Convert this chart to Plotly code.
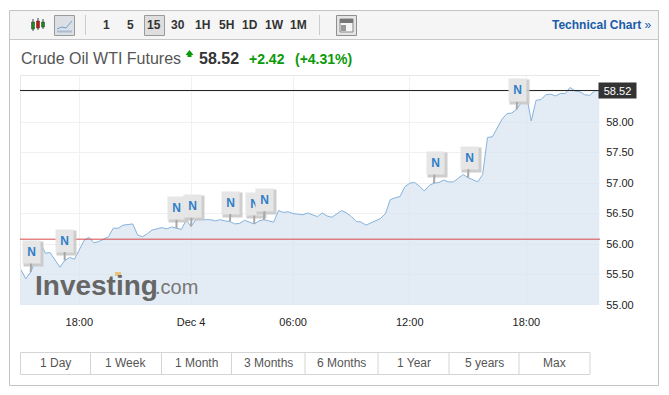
import plotly.graph_objects as go
import pandas as pd

W, H = 669, 395
FONT = "Liberation Sans, Arial, sans-serif"

# 15-minute bars, with the thin overnight stretch left out
session_gaps = ["2017-12-03 23:00", "2017-12-04 01:00", "2017-12-04 02:15", "2017-12-04 03:30", "2017-12-04 04:45"]
times = [t for t in pd.date_range("2017-12-03 15:00", periods=125, freq="15min")
         if t.strftime("%Y-%m-%d %H:%M") not in session_gaps]
categories = [t.strftime("%d %H:%M") for t in times]

prices = [
    55.58, 55.43, 55.54, 55.73, 56.03, 55.85, 55.86, 55.74, 55.62, 55.73,
    55.78, 55.75, 55.90, 56.06, 56.11, 56.02, 56.04, 56.08, 56.12, 56.26,
    56.26, 56.31, 56.32, 56.33, 56.15, 56.12, 56.17, 56.23, 56.25, 56.27,
    56.25, 56.28, 56.26, 56.24, 56.39, 56.29, 56.40, 56.40, 56.41, 56.40,
    56.38, 56.40, 56.38, 56.37, 56.33, 56.34, 56.39, 56.36, 56.33, 56.38,
    56.40, 56.38, 56.36, 56.55, 56.52, 56.53, 56.50, 56.49, 56.48, 56.51,
    56.48, 56.45, 56.51, 56.46, 56.44, 56.50, 56.55, 56.51, 56.45, 56.37,
    56.36, 56.31, 56.35, 56.38, 56.42, 56.50, 56.73, 56.76, 56.78, 56.94,
    57.00, 57.01, 56.95, 56.87, 56.96, 57.00, 57.01, 57.05, 57.02, 57.02,
    57.08, 57.14, 57.09, 57.06, 57.02, 57.14, 57.75, 57.76, 57.91, 58.05,
    58.14, 58.15, 58.21, 58.34, 58.45, 58.02, 58.36, 58.37, 58.45, 58.46,
    58.43, 58.47, 58.47, 58.57, 58.51, 58.50, 58.45, 58.44, 58.51, 58.52,
]
categories = categories[:len(prices)]

prev_close = 56.08
last_price = 58.52
y_ticks = [55.0, 55.5, 56.0, 56.5, 57.0, 57.5, 58.0, 58.5]
y_labels = ["55.00", "55.50", "56.00", "56.50", "57.00", "57.50", "58.00", ""]
x_tick_idx = [12, 35, 56, 80, 104]
x_labels = ["18:00", "Dec 4", "06:00", "12:00", "18:00"]

news_idx = [2, 9, 32, 35, 43, 48, 50, 85, 92, 102]
news_dx = [1, 0, 0, 1, 1, 0, 1, 1, 1, 1]
news_dy = [-20, -20, -20, -20, -19, -20, -20, -20, -20, -19]

toolbar_labels = ["1", "5", "15", "30", "1H", "5H", "1D", "1W", "1M"]
toolbar_x = [106, 130, 154, 178, 202, 226, 250, 274, 298]
range_labels = ["1 Day", "1 Week", "1 Month", "3 Months", "6 Months", "1 Year", "5 years", "Max"]
range_edges = [20, 90.5, 161.5, 231.5, 305, 378, 449, 519, 590]


def px(x):
    return x / W


def py(y):
    return 1 - y / H


def rect(x0, y0, x1, y1, fill=None, line=None, lw=1, layer="above"):
    return dict(type="rect", xref="paper", yref="paper", x0=px(x0), x1=px(x1), y0=py(y0), y1=py(y1),
                fillcolor=fill or "rgba(0,0,0,0)", line=dict(color=line or "rgba(0,0,0,0)", width=lw if line else 0),
                layer=layer)


def seg(x0, y0, x1, y1, color, lw=1):
    return dict(type="line", xref="paper", yref="paper", x0=px(x0), x1=px(x1), y0=py(y0), y1=py(y1),
                line=dict(color=color, width=lw), layer="above")


def text(x, y, s, size=12, color="#333", bold=False, anchor="center"):
    shift = {"left": -2, "right": 2}.get(anchor, 0)
    return dict(xref="paper", yref="paper", x=px(x + shift), y=py(y), text=f"<b>{s}</b>" if bold else s,
                showarrow=False, xanchor=anchor, yanchor="middle",
                font=dict(family=FONT, size=size, color=color))


fig = go.Figure()
fig.add_trace(go.Scatter(x=categories, y=prices, mode="lines", fill="tozeroy",
                         fillcolor="rgba(214,227,240,0.68)",
                         line=dict(color="#86b2dc", width=1), hoverinfo="skip"))

shapes = []
# outer frame and toolbar
shapes.append(rect(9.5, 10.5, 658.5, 385.5, None, "#c4c4c4", 1, "below"))
shapes.append(rect(10, 11, 658, 39, "#f5f5f5", None, 1, "below"))
shapes.append(seg(10, 39.5, 658, 39.5, "#c8c8c8"))
shapes.append(seg(85.5, 15, 85.5, 35, "#cccccc"))
shapes.append(seg(319.5, 15, 319.5, 35, "#cccccc"))
# candle icon
for cx, col, top, bot, y0, y1 in [(33, "#1a8a1a", 19, 31, 22, 29), (38, "#cc1111", 18, 30, 21, 28), (43, "#1a8a1a", 19, 29, 22, 27)]:
    shapes.append(seg(cx, top, cx, bot, "#444"))
    shapes.append(rect(cx - 1.5, y0, cx + 1.5, y1, col, "#333", 0.5))
# line-chart button
shapes.append(rect(54.5, 15.5, 74.5, 35.5, "#dcdfe3", "#9a9a9a"))
shapes.append(dict(type="path", xref="paper", yref="paper",
                   path=f"M {px(57)} {py(29)} L {px(62)} {py(27)} L {px(66)} {py(28)} L {px(72)} {py(21)}",
                   line=dict(color="#6f9fd0", width=1), layer="above"))
shapes.append(seg(57, 31.5, 72, 31.5, "#a9bdd3", 2))
# active 15 button
shapes.append(rect(144.5, 15.5, 164.5, 35.5, "#dedede", "#9a9a9a"))
# layout button
shapes.append(rect(336.5, 15.5, 356.5, 35.5, "#e4e4e4", "#8f8f8f"))
shapes.append(rect(340, 19, 353, 32, "#f6f6f6", "#888888"))
shapes.append(rect(340, 19, 353, 23, "#777777"))
shapes.append(rect(341, 25, 346, 31, "#999999"))
# plot border
shapes.append(seg(20, 75.5, 600, 75.5, "#e8e8e8"))
shapes.append(seg(20.5, 75, 20.5, 305, "#e8e8e8"))
# reference lines from data
shapes.append(dict(type="line", xref="paper", yref="y", x0=px(20), x1=px(600), y0=prev_close, y1=prev_close,
                   line=dict(color="#d9484a", width=1), layer="above"))
shapes.append(dict(type="line", xref="paper", yref="y", x0=px(20), x1=px(600), y0=last_price, y1=last_price,
                   line=dict(color="#222222", width=1), layer="above"))
# up arrow
shapes.append(dict(type="path", xref="paper", yref="paper",
                   path=f"M {px(189.5)} {py(50)} L {px(193.5)} {py(55)} L {px(191.5)} {py(55)} L {px(191.5)} {py(57)} "
                        f"L {px(187.5)} {py(57)} L {px(187.5)} {py(55)} L {px(185.5)} {py(55)} Z",
                   fillcolor="#0a9a0a", line=dict(width=0), layer="above"))
# watermark accent
shapes.append(rect(115, 272, 121, 276, "#e8c47c"))
# range buttons
shapes.append(rect(20.5, 352.5, 590, 374.5, None, "#d4d4d4"))
for e in range_edges[1:-1]:
    shapes.append(seg(e, 352.5, e, 374.5, "#d4d4d4"))

ann = []
# watermark
ann.append(text(35, 285, "Investing", 28, "#666666", True, "left"))
ann.append(text(155, 287, ".com", 20, "#777777", False, "left"))
# news flags
for i, dx, dy in zip(news_idx, news_dx, news_dy):
    ann.append(dict(x=categories[i], y=prices[i], xref="x", yref="y", text=" ", showarrow=False,
                    xanchor="center", yanchor="middle",
                    xshift=dx + 2, yshift=-dy - 2, width=17, height=22, bgcolor="#c9c9c9", opacity=0.9))
    ann.append(dict(x=categories[i], y=prices[i], xref="x", yref="y", ax=dx, ay=dy,
                    text="<b>N</b>", showarrow=True, arrowhead=0, arrowwidth=2, arrowcolor="#a8a8a8",
                    width=17, height=22, bgcolor="#e6e6e6", borderpad=0,
                    font=dict(family=FONT, size=12, color="#2f7fc8")))
# last price badge
ann.append(dict(xref="paper", yref="y", x=px(617.5), y=last_price, text=f"{last_price:.2f}", showarrow=False,
                xanchor="center", yanchor="middle",
                width=35, height=13, bgcolor="#333333", font=dict(family=FONT, size=11, color="#ffffff")))
# title row
ann.append(text(21, 58, "Crude Oil WTI Futures", 16, "#555555", False, "left"))
ann.append(text(198.5, 58, "58.52", 16, "#333333", True, "left"))
ann.append(text(249, 59, "+2.42", 14, "#0a9a0a", True, "left"))
ann.append(text(295, 59, "(+4.31%)", 14, "#0a9a0a", True, "left"))
# toolbar
for lab, x in zip(toolbar_labels, toolbar_x):
    ann.append(text(x, 25, lab, 12, "#333333", True))
ann.append(dict(text(651, 25, "Technical Chart <span style='font-weight:normal'>»</span>", 12, "#1a5ca8", True, "right")))
# range buttons
for lab, a, b in zip(range_labels, range_edges[:-1], range_edges[1:]):
    ann.append(text((a + b) / 2, 363, lab, 12, "#555555"))

fig.update_layout(
    width=W, height=H, autosize=False,
    margin=dict(l=0, r=0, t=0, b=0, autoexpand=False),
    paper_bgcolor="#ffffff", plot_bgcolor="#ffffff",
    showlegend=False, shapes=shapes, annotations=ann,
    font=dict(family=FONT, size=11, color="#333333"),
    xaxis=dict(domain=[px(20), px(600)], type="category", categoryorder="array", categoryarray=categories,
               range=[-0.2, 119.15], tickmode="array", automargin=False,
               tickvals=[categories[i] for i in x_tick_idx], ticktext=x_labels,
               showgrid=True, gridcolor="#f1f1f1", gridwidth=1, zeroline=False, showline=False,
               ticks="outside", ticklen=7, tickcolor="rgba(0,0,0,0)", tickangle=0,
               tickfont=dict(family=FONT, size=11, color="#222222"), anchor="y"),
    yaxis=dict(domain=[py(305), py(75)], range=[55, 58.774], side="right", tickmode="array", automargin=False,
               tickvals=y_ticks, ticktext=y_labels,
               showgrid=True, gridcolor="#f1f1f1", gridwidth=1, zeroline=False, showline=False,
               ticks="outside", ticklen=3, tickcolor="rgba(0,0,0,0)",
               tickfont=dict(family=FONT, size=11, color="#222222"), anchor="x"),
)
fig.write_html("out.html", config=dict(displayModeBar=False),
               post_script="document.documentElement.style.margin='0';document.body.style.margin='0';document.body.style.overflow='hidden';")
